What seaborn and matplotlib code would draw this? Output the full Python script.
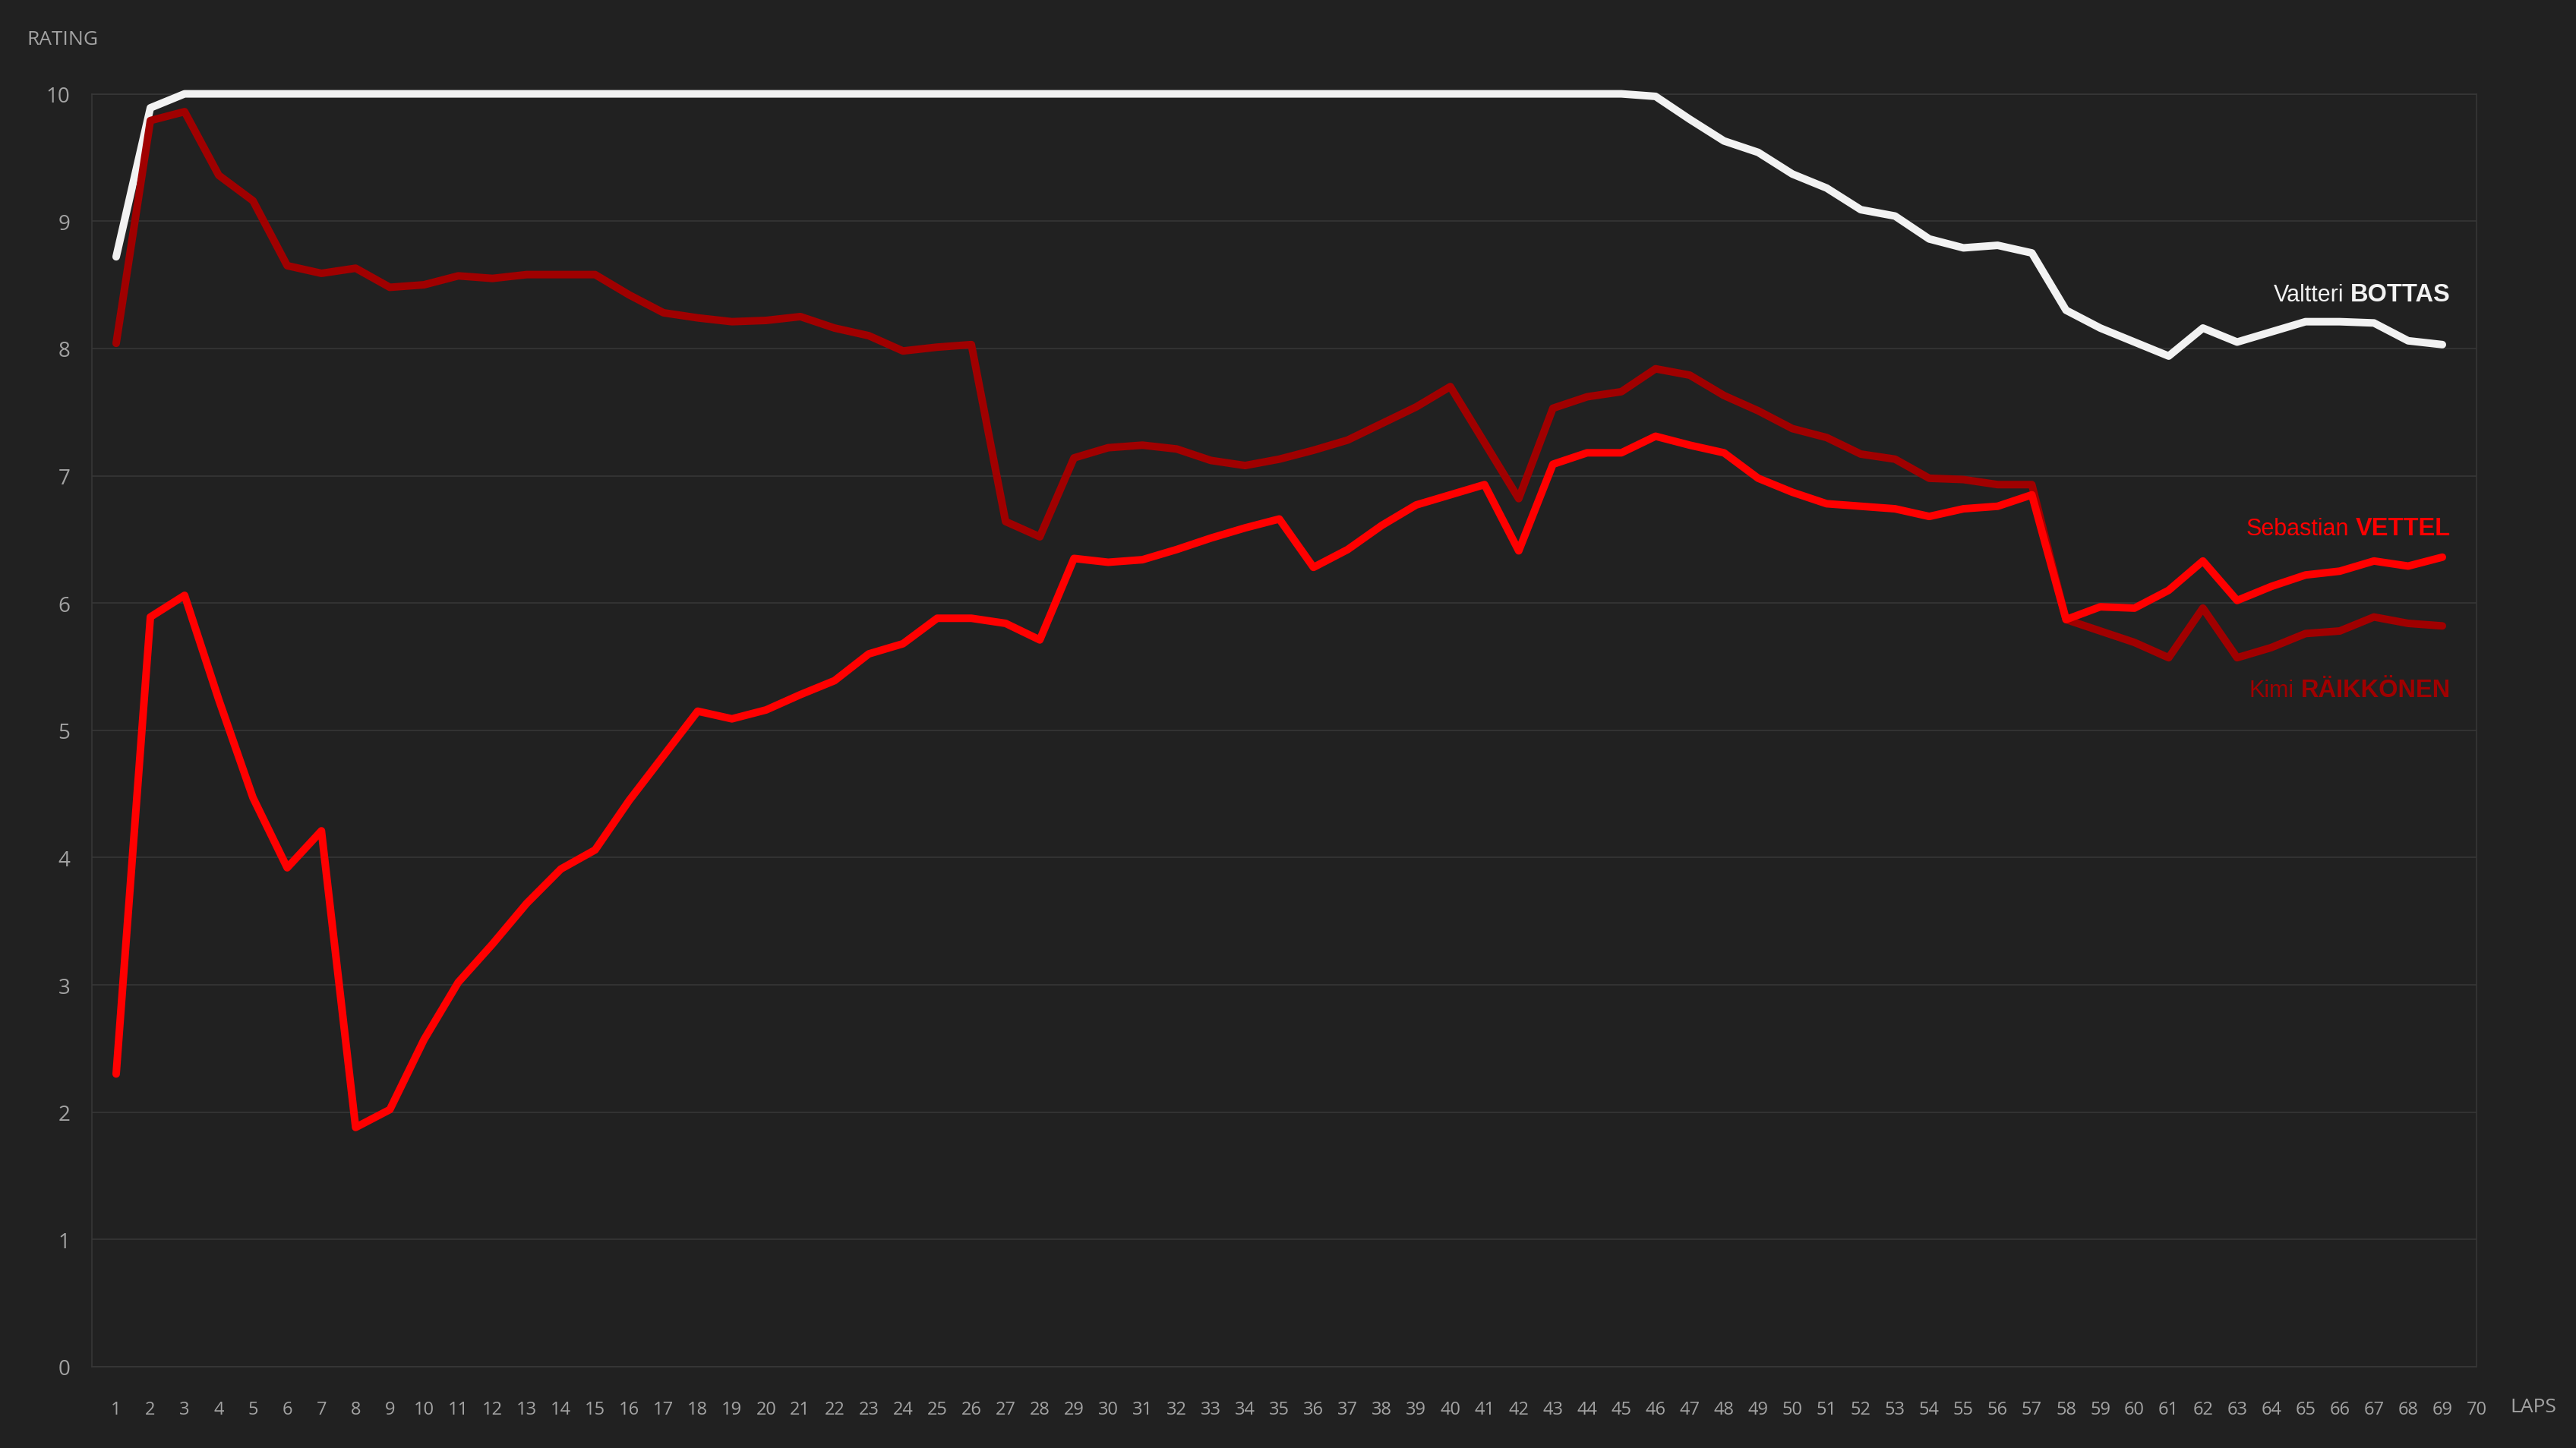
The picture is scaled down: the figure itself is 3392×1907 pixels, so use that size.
import pandas as pd
import seaborn as sns
import matplotlib.pyplot as plt

# lap-by-lap rating
laps = list(range(1, 70))

bottas = [8.72, 9.89, 10.0, 10.0, 10.0, 10.0, 10.0, 10.0, 10.0, 10.0,
          10.0, 10.0, 10.0, 10.0, 10.0, 10.0, 10.0, 10.0, 10.0, 10.0,
          10.0, 10.0, 10.0, 10.0, 10.0, 10.0, 10.0, 10.0, 10.0, 10.0,
          10.0, 10.0, 10.0, 10.0, 10.0, 10.0, 10.0, 10.0, 10.0, 10.0,
          10.0, 10.0, 10.0, 10.0, 10.0, 9.98, 9.80, 9.63, 9.54, 9.37,
          9.26, 9.09, 9.04, 8.86, 8.79, 8.81, 8.75, 8.30, 8.16, 8.05,
          7.94, 8.16, 8.05, 8.13, 8.21, 8.21, 8.20, 8.06, 8.03]

vettel = [2.30, 5.89, 6.06, 5.24, 4.47, 3.92, 4.21, 1.88, 2.02, 2.57,
          3.02, 3.32, 3.64, 3.91, 4.06, 4.45, 4.80, 5.15, 5.09, 5.16,
          5.28, 5.39, 5.60, 5.68, 5.88, 5.88, 5.84, 5.71, 6.35, 6.32,
          6.34, 6.42, 6.51, 6.59, 6.66, 6.28, 6.42, 6.61, 6.77, 6.85,
          6.93, 6.41, 7.09, 7.18, 7.18, 7.31, 7.24, 7.18, 6.98, 6.87,
          6.78, 6.76, 6.74, 6.68, 6.74, 6.76, 6.85, 5.87, 5.97, 5.96,
          6.10, 6.33, 6.02, 6.13, 6.22, 6.25, 6.33, 6.29, 6.36]

raikkonen = [8.04, 9.79, 9.86, 9.36, 9.16, 8.65, 8.59, 8.63, 8.48, 8.50,
             8.57, 8.55, 8.58, 8.58, 8.58, 8.42, 8.28, 8.24, 8.21, 8.22,
             8.25, 8.16, 8.10, 7.98, 8.01, 8.03, 6.64, 6.52, 7.14, 7.22,
             7.24, 7.21, 7.12, 7.08, 7.13, 7.20, 7.28, 7.41, 7.54, 7.70,
             7.26, 6.82, 7.53, 7.62, 7.66, 7.84, 7.79, 7.63, 7.51, 7.37,
             7.30, 7.17, 7.13, 6.98, 6.97, 6.93, 6.93, 5.87, 5.78, 5.69,
             5.57, 5.96, 5.57, 5.65, 5.76, 5.78, 5.89, 5.84, 5.82]

drivers = ['Bottas', 'Raikkonen', 'Vettel']
first_names = {'Bottas': 'Valtteri', 'Raikkonen': 'Kimi', 'Vettel': 'Sebastian'}
last_names = {'Bottas': 'BOTTAS', 'Raikkonen': 'RÄIKKÖNEN', 'Vettel': 'VETTEL'}
colors = {'Bottas': '#f2f2f2', 'Raikkonen': '#a00000', 'Vettel': '#ff0000'}
label_y = {'Bottas': 8.375, 'Raikkonen': 5.265, 'Vettel': 6.535}

BG = '#212121'
GRID = '#383838'
TXT = '#a3a3a3'

df = pd.concat([
    pd.DataFrame({'lap': laps, 'rating': bottas, 'driver': 'Bottas'}),
    pd.DataFrame({'lap': laps, 'rating': raikkonen, 'driver': 'Raikkonen'}),
    pd.DataFrame({'lap': laps, 'rating': vettel, 'driver': 'Vettel'}),
])

sns.set_style('dark')
plt.rcParams['font.family'] = ['Open Sans', 'DejaVu Sans']

fig = plt.figure(figsize=(33.92, 19.08), dpi=100, facecolor=BG)
ax = fig.add_axes([0.0358, 0.0561, 0.9614 - 0.0358, 0.9347 - 0.0561])
ax.set_facecolor(BG)

sns.lineplot(data=df, x='lap', y='rating', hue='driver', hue_order=drivers,
             palette=colors, linewidth=7.2, legend=False, ax=ax,
             solid_capstyle='round', sort=False)
for line in ax.lines:
    line.set_clip_on(False)
    line.set_zorder(4)

ax.set_xlim(0.3, 70)
ax.set_ylim(0, 10)
ax.set_xticks(range(1, 71))
ax.set_xticks(range(10, 71, 10), minor=True)
ax.set_yticks(range(0, 11))
ax.grid(False)
ax.grid(True, axis='y', which='major', color=GRID, linewidth=1.1)
ax.grid(True, axis='x', which='minor', color=GRID, linewidth=1.1)
ax.set_axisbelow(True)
ax.tick_params(axis='both', which='both', length=0, colors=TXT)
ax.tick_params(axis='x', labelsize=17, pad=32)
ax.tick_params(axis='y', labelsize=20, pad=21)
ax.set_xlabel('')
ax.set_ylabel('')
for s in ax.spines.values():
    s.set_visible(True)
    s.set_color(GRID)
    s.set_linewidth(1.1)
    s.set_zorder(1)

fig.text(35 / 3392, 1 - 52.5 / 1908, 'RATING', ha='left', va='center',
         fontsize=19, color=TXT)
fig.text(3336 / 3392, 1 - 1854 / 1908, 'LAPS', ha='center', va='center',
         fontsize=19, color=TXT)

# driver labels: bold surname right-aligned, first name in front of it
bold_texts = {}
for d in drivers:
    bold_texts[d] = ax.text(69.24, label_y[d], last_names[d], ha='right', va='baseline',
                            fontsize=23.5, fontweight='bold',
                            family=['Liberation Sans', 'DejaVu Sans'], color=colors[d])
fig.canvas.draw()
for d in drivers:
    bb = bold_texts[d].get_window_extent()
    x_left = ax.transData.inverted().transform((bb.x0 - 9, 0))[0]
    ax.text(x_left, label_y[d], first_names[d], ha='right', va='baseline',
            fontsize=22, family=['Liberation Sans', 'DejaVu Sans'], color=colors[d])

fig.savefig('out.png', dpi=100, facecolor=BG)
